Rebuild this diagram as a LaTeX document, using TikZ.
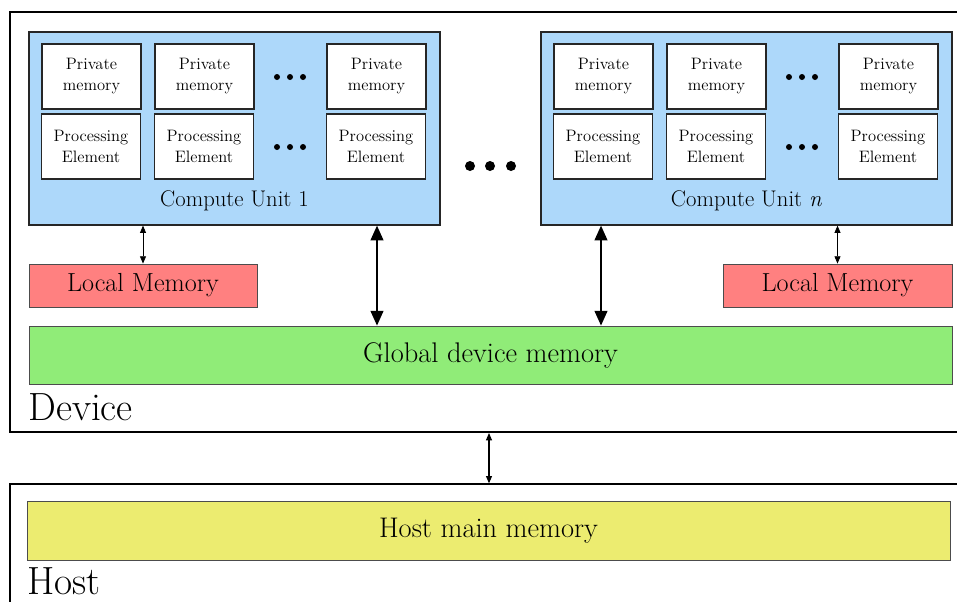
\documentclass[tikz,border=0pt]{standalone}
\usetikzlibrary{arrows.meta}
\definecolor{cublue}{RGB}{173,216,250}
\definecolor{lmred}{RGB}{255,128,128}
\definecolor{glgreen}{RGB}{144,236,120}
\definecolor{hmyellow}{RGB}{236,236,112}
\tikzset{
  box/.style={draw=black!85, line width=0.9pt, inner sep=0pt, align=center},
  pebox/.style={box, fill=white, minimum width=74.25pt, minimum height=48.75pt,
    font=\fontsize{12.4}{15.75}\selectfont},
  cubox/.style={box, fill=cublue, minimum width=308.25pt, minimum height=144.75pt},
  membox/.style={box, line width=0.6pt, draw=black!70, minimum height=32.25pt,
    font=\fontsize{19.6}{22}\selectfont},
  outer/.style={draw=black, inner sep=0pt},
  bigarrow/.style={{Triangle[width=9.5pt,length=11pt]}-{Triangle[width=9.5pt,length=11pt]}, line width=1.4pt},
  smallarrow/.style={{Triangle[width=4.5pt,length=5.5pt]}-{Triangle[width=4.5pt,length=5.5pt]}, line width=0.6pt},
  dot/.style={fill=black, circle, inner sep=0pt, minimum size=4.5pt},
  bigdot/.style={fill=black, circle, inner sep=0pt, minimum size=7.5pt}
}
\begin{document}
\begin{tikzpicture}[x=0.75pt, y=-0.75pt]
\useasboundingbox (0,0) rectangle (957,601);
\clip (0,0) rectangle (957,601);
\fill[white] (0,0) rectangle (957,601);
% outer boxes
\node[outer, line width=1.5pt, minimum width=720pt, minimum height=315pt] (device) at (490,222) {};
\node[outer, line width=1pt, minimum width=720pt, minimum height=117pt] (host) at (490,562) {};
\node[anchor=base west, inner sep=0pt, font=\fontsize{29.5}{32}\selectfont] (devlbl) at (28,420) {Device};
\node[anchor=base west, inner sep=0pt, font=\fontsize{29.5}{32}\selectfont] (hostlbl) at (27,594) {Host};
% compute units
\node[cubox] (cu1) at (234.5,128.5) {};
\node[cubox] (cun) at (746.5,128.5) {};
\foreach \cu/\dx in {a/0, b/512} {
  \foreach \i/\x in {1/91.5, 2/204.5, 3/376.5} {
    \node[pebox] (pm\cu\i) at (\x+\dx,76.5) {Private\\memory};
    \node[pebox] (pe\cu\i) at (\x+\dx-0.5,146.5) {Processing\\Element};
  }
  \foreach \xx in {277,290,303} {
    \node[dot] (d1\cu\xx) at (\xx+\dx,77) {};
    \node[dot] (d2\cu\xx) at (\xx+\dx,147) {};
  }
}
\node[font=\fontsize{17}{20}\selectfont, inner sep=0pt] (cu1lbl) at (234.5,201) {Compute Unit 1};
\node[font=\fontsize{17}{20}\selectfont, inner sep=0pt] (cunlbl) at (746.5,201) {Compute Unit \textit{n}};
\foreach \xx in {470,490,511} \node[bigdot] (md\xx) at (\xx,166) {};
% memories
\node[membox, fill=lmred, minimum width=171pt] (lm1) at (143,285.5) {Local Memory};
\node[membox, fill=lmred, minimum width=171.75pt] (lmn) at (837.5,285.5) {Local Memory};
\node[membox, fill=glgreen, minimum width=692.25pt, minimum height=43.5pt, font=\fontsize{21.3}{24}\selectfont] (global) at (490.5,355) {Global device memory};
\node[membox, fill=hmyellow, minimum width=692.25pt, minimum height=44.25pt, font=\fontsize{21.3}{24}\selectfont] (hostmem) at (488.5,530.5) {Host main memory};
% connectors
\draw[smallarrow] (lm1.north |- cu1.south) -- (lm1.north);
\draw[smallarrow] (lmn.north |- cun.south) -- (lmn.north);
\coordinate (b1) at (377,0);
\coordinate (b2) at (601,0);
\draw[bigarrow] (b1 |- cu1.south) -- (b1 |- global.north);
\draw[bigarrow] (b2 |- cun.south) -- (b2 |- global.north);
\coordinate (b3) at (489,0);
\draw[smallarrow, line width=0.8pt] (b3 |- device.south) -- (b3 |- host.north);
\end{tikzpicture}
\end{document}
